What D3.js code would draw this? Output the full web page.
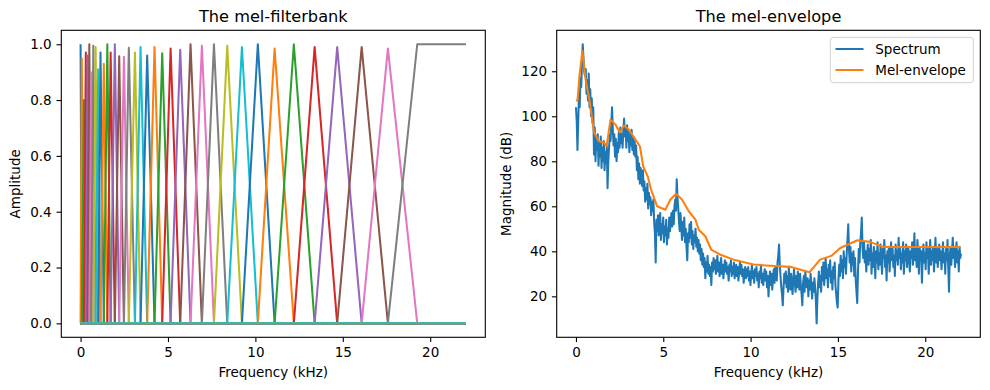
<!DOCTYPE html>
<html>
<head>
<meta charset="utf-8">
<script src="https://cdn.jsdelivr.net/npm/d3@7"></script>
<style>
  html, body { margin: 0; padding: 0; background: #fff; }
  svg text { font-family: "DejaVu Sans", sans-serif; }
</style>
</head>
<body>
<svg id="chart" width="990" height="390"></svg>
<script>
// ---------------- DATA ----------------
const nyquistKHz = 22.05;
// Mel filter centre frequencies (kHz)
const filterCenters = [0, 0.07, 0.19, 0.30, 0.40, 0.50, 0.61, 0.73, 0.86, 1.01,
  1.14, 1.33, 1.53, 1.72, 1.96, 2.21, 2.48, 2.76, 3.11, 3.43,
  3.81, 4.23, 4.67, 5.15, 5.70, 6.29, 6.94, 7.63, 8.39, 9.23,
  10.14, 11.10, 12.20, 13.39, 14.68, 16.08, 17.58, 19.26];
// Peak amplitude of every filter (last two filters are empty)
const filterPeaks = [1.0, 0.95, 0.80, 0.97, 0.96, 1.0, 0.90, 0.995, 0.99, 0.91,
  0.97, 0.93, 1.0, 0.97, 1.0, 0.957, 0.955, 0.987, 0.97, 0.99,
  0.96, 0.99, 0.968, 0.985, 0.98, 1.0, 0.995, 1.0, 0.995, 0.99,
  1.0, 0.985, 1.0, 0.99, 0.99, 0.99, 0.985, 1.0, 0, 0];

// Spectrum (dB), one value per FFT bin from 0 to 22.05 kHz
const spectrumDb = [
  104, 98, 85,
  97, 110, 104, 117, 113, 124, 132, 126, 120,
  118, 121, 110, 116, 107, 119, 104, 112, 100, 108,
  97, 104, 83, 95,
  80, 90, 85, 92, 78, 88, 82, 91, 77, 86, 80, 89, 76, 84, 79, 87,
  68,
  80, 86, 92, 89, 97,
  104,
  94, 87, 92, 82, 90, 80, 88, 84, 93, 86, 95, 88, 92, 86, 94,
  99,
  91, 95, 86, 96, 89, 93, 84, 92, 87, 94, 85, 90, 83, 89, 82, 87,
  76, 82, 72, 79, 70, 77, 74, 69, 76, 67, 71,
  62,
  68, 63, 70, 59, 66, 61, 64, 56, 62, 58, 63, 53, 48,
  35,
  54, 49, 56, 47, 53, 57, 45, 52, 48, 55, 44, 51, 47, 54, 43, 50, 46, 55, 49, 53, 57, 51, 58, 52, 60,
  63, 58, 72, 64, 59,
  53, 49, 57, 51, 45, 53, 47, 55, 44, 50, 42,
  36,
  48, 44, 52, 46, 53, 43, 49, 41, 47, 44, 50, 42, 46, 40, 45, 39, 43,
  36, 41, 34, 39, 33, 37, 28, 35, 31, 38, 30, 34, 29, 33, 25,
  35, 31, 37, 32, 36, 30, 34, 38, 31, 35, 29, 33, 37, 30, 34, 28, 32, 36, 31, 35,
  30, 33, 27, 34, 31, 36, 29, 33, 30, 35, 28, 32, 34, 29, 33, 27, 31, 35, 30, 34,
  29, 32, 26, 31, 33, 28, 32,
  29, 33, 27, 31, 25, 30, 34, 28, 31, 26, 32, 29, 33, 27, 30, 24, 31, 28, 34, 26,
  30, 25, 29, 32, 27, 31, 24, 29, 20, 27, 31, 25, 30, 23, 28, 32, 26, 33, 29, 27, 35,
  38, 43, 34, 29, 24,
  21, 16, 24, 30, 26,
  31, 24, 29, 22, 33, 27, 23, 30, 25, 21, 28, 32, 26, 22, 29, 24, 31, 27, 23, 30,
  25, 21, 16, 26, 29, 22, 31, 26, 24, 28, 20, 27, 23, 30, 25, 19, 26, 22, 28, 24, 18,
  8,
  19, 26, 31, 24, 29, 22, 33, 27, 35, 25, 30, 37, 28, 32, 24, 34, 29, 36, 26, 31, 23, 33, 28, 35, 25, 21,
  17, 15, 27,
  34, 29, 38, 31, 36, 28, 40, 33, 37, 30, 39,
  45, 52, 41,
  35, 42, 31, 39, 34, 40, 29, 37, 27, 22,
  17,
  31, 41, 35, 44, 48, 55, 42, 37,
  44, 35, 40, 31, 38, 43, 34, 41, 36, 45, 30, 39, 33, 42, 37, 28, 40, 35, 44, 32,
  39, 34, 43, 36, 30, 41, 37, 45, 33, 38, 27, 40, 35, 42, 31, 39, 44, 36, 41, 33,
  38, 29, 43, 36, 40, 34, 46, 37, 41, 32, 39, 35, 44, 30, 40, 36, 43, 33, 38, 42,
  35, 31, 40, 37, 44, 34, 39, 48, 36, 41, 33, 45, 38, 30, 42, 36, 40, 26, 37, 43,
  35, 39, 32, 44, 37, 41, 30, 38, 45, 34, 40, 36, 42, 31, 39, 46, 35, 41, 33, 38,
  43, 36, 40, 32, 37, 44, 35, 39, 30, 41, 36, 45, 33, 22, 38, 42, 34, 40, 46, 37,
  41, 33, 39, 44, 35, 40, 31, 42, 37, 39];

// Mel-envelope (kHz, dB)
const envelopeKHz = [0, 0.09, 0.20, 0.37, 0.556, 0.80, 1.03, 1.31, 1.60, 1.754,
  1.98, 2.26, 2.51, 2.74, 3.03, 3.41, 3.66, 3.85, 4.11, 4.30,
  4.65, 5.12, 5.41, 5.73, 6.07, 6.46, 6.84, 7.03, 7.41, 7.74,
  8.27, 9.03, 10.17, 11.13, 12.27, 13.37, 13.98, 14.65, 15.13, 16.12,
  16.84, 17.60, 22.02];
const envelopeDb = [107, 107, 118, 129, 116.3, 106, 93, 88.9, 88.4, 86.7,
  98.5, 96.3, 92.9, 95.9, 94.1, 89.6, 86.7, 77.8, 73.3, 67.4,
  60, 58.5, 63, 65.6, 63, 57.8, 54.1, 49.6, 46.7, 40.8,
  38.5, 36.3, 34.1, 33.6, 33.1, 30.7, 36.3, 38.1, 41.5, 44.9,
  44.2, 41.9, 41.9];

const xTicks = [0, 5, 10, 15, 20];
const ampTicks = [0.0, 0.2, 0.4, 0.6, 0.8, 1.0];
const dbTicks = [20, 40, 60, 80, 100, 120];
const seriesNames = ["Spectrum", "Mel-envelope"];
const palette = ["#1f77b4", "#ff7f0e", "#2ca02c", "#d62728", "#9467bd",
  "#8c564b", "#e377c2", "#7f7f7f", "#bcbd22", "#17becf"];

// ---------------- LAYOUT ----------------
const FS = 13.5;
const TITLE_FS = 16.2;
const LW = 2.05;
const axL = {x0: 61.3, x1: 485.3, y0: 30.3, y1: 337.3};
const axR = {x0: 556.7, x1: 980.3, y0: 30.3, y1: 337.3};

const svg = d3.select("#chart");

function padded(lo, hi) { const m = (hi - lo) * 0.05; return [lo - m, hi + m]; }

function drawAxes(ax, xs, ys, xt, yt, yfmt, title, xlabel, ylabel, ylabelX) {
  const g = svg.append("g");
  const xa = g.append("g").attr("transform", `translate(0,${ax.y1})`)
    .call(d3.axisBottom(xs).tickValues(xt).tickSize(4.8).tickPadding(5).tickFormat(d3.format("d")));
  const ya = g.append("g").attr("transform", `translate(${ax.x0},0)`)
    .call(d3.axisLeft(ys).tickValues(yt).tickSize(4.8).tickPadding(4.8).tickFormat(yfmt));
  [xa, ya].forEach(a => {
    a.select(".domain").remove();
    a.selectAll("line").attr("stroke", "#000").attr("stroke-width", 1.1);
    a.selectAll("text").attr("fill", "#000").style("font-size", FS + "px")
      .style("font-family", "DejaVu Sans");
  });
  g.append("text").attr("x", (ax.x0 + ax.x1) / 2).attr("y", 22)
    .attr("text-anchor", "middle").style("font-size", TITLE_FS + "px").text(title);
  g.append("text").attr("x", (ax.x0 + ax.x1) / 2).attr("y", 377)
    .attr("text-anchor", "middle").style("font-size", FS + "px").text(xlabel);
  g.append("text").attr("transform", `translate(${ylabelX},${(ax.y0 + ax.y1) / 2}) rotate(-90)`)
    .attr("text-anchor", "middle").style("font-size", FS + "px").text(ylabel);
  return g;
}

function spines(ax) {
  svg.append("rect").attr("x", ax.x0).attr("y", ax.y0)
    .attr("width", ax.x1 - ax.x0).attr("height", ax.y1 - ax.y0)
    .attr("fill", "none").attr("stroke", "#000").attr("stroke-width", 1.1);
}

function clip(id, ax) {
  svg.append("clipPath").attr("id", id).append("rect")
    .attr("x", ax.x0).attr("y", ax.y0).attr("width", ax.x1 - ax.x0).attr("height", ax.y1 - ax.y0);
}

// ---------------- LEFT: filterbank ----------------
const xL = d3.scaleLinear().domain(padded(0, nyquistKHz)).range([axL.x0, axL.x1]);
const yL = d3.scaleLinear().domain(padded(0, 1)).range([axL.y1, axL.y0]);
drawAxes(axL, xL, yL, xTicks, ampTicks, d3.format(".1f"), "The mel-filterbank",
  "Frequency (kHz)", "Amplitude", 19.8);
clip("clipL", axL);

const n = filterCenters.length;
const filters = filterPeaks.map((peak, i) => {
  let pts;
  if (peak === 0 || i >= n) {
    pts = [[0, 0], [nyquistKHz, 0]];
  } else if (i === 0) {
    pts = [[0, peak], [filterCenters[1], 0], [nyquistKHz, 0]];
  } else if (i === n - 1) {
    pts = [[0, 0], [filterCenters[i - 1], 0], [filterCenters[i], peak], [nyquistKHz, peak]];
  } else {
    pts = [[0, 0], [filterCenters[i - 1], 0], [filterCenters[i], peak],
      [filterCenters[i + 1], 0], [nyquistKHz, 0]];
  }
  return pts;
});
const lineL = d3.line().x(d => xL(d[0])).y(d => yL(d[1]));
svg.append("g").attr("clip-path", "url(#clipL)")
  .selectAll("path").data(filters).join("path")
  .attr("d", lineL).attr("fill", "none")
  .attr("stroke", (d, i) => palette[i % 10]).attr("stroke-width", LW)
  .attr("stroke-linejoin", "round").attr("stroke-linecap", "butt");
spines(axL);

// ---------------- RIGHT: envelope ----------------
const step = nyquistKHz / (spectrumDb.length - 1);
const spec = spectrumDb.map((v, i) => [i * step, v]);
const env = envelopeKHz.map((k, i) => [k, envelopeDb[i]]);
const allDb = spectrumDb.concat(envelopeDb);
const xR = d3.scaleLinear().domain(padded(0, nyquistKHz)).range([axR.x0, axR.x1]);
const yR = d3.scaleLinear().domain(padded(d3.min(allDb), d3.max(allDb))).range([axR.y1, axR.y0]);
drawAxes(axR, xR, yR, xTicks, dbTicks, d3.format("d"), "The mel-envelope",
  "Frequency (kHz)", "Magnitude (dB)", 511);
clip("clipR", axR);
const lineR = d3.line().x(d => xR(d[0])).y(d => yR(d[1]));
const gR = svg.append("g").attr("clip-path", "url(#clipR)");
gR.append("path").datum(spec).attr("d", lineR).attr("fill", "none")
  .attr("stroke", palette[0]).attr("stroke-width", LW).attr("stroke-linejoin", "round");
gR.append("path").datum(env).attr("d", lineR).attr("fill", "none")
  .attr("stroke", palette[1]).attr("stroke-width", LW).attr("stroke-linejoin", "round");
spines(axR);

// legend
const lg = svg.append("g");
lg.append("rect").attr("x", 830.3).attr("y", 37.3).attr("width", 143).attr("height", 45.4)
  .attr("rx", 3).attr("fill", "#fff").attr("fill-opacity", 0.8)
  .attr("stroke", "#d0d0d0").attr("stroke-width", 1);
seriesNames.forEach((name, i) => {
  const yy = 49 + i * 21;
  lg.append("line").attr("x1", 835.5).attr("x2", 863.5).attr("y1", yy).attr("y2", yy)
    .attr("stroke", palette[i]).attr("stroke-width", LW);
  lg.append("text").attr("x", 875.3).attr("y", yy + 4.8).style("font-size", FS + "px").text(name);
});
</script>
</body>
</html>
